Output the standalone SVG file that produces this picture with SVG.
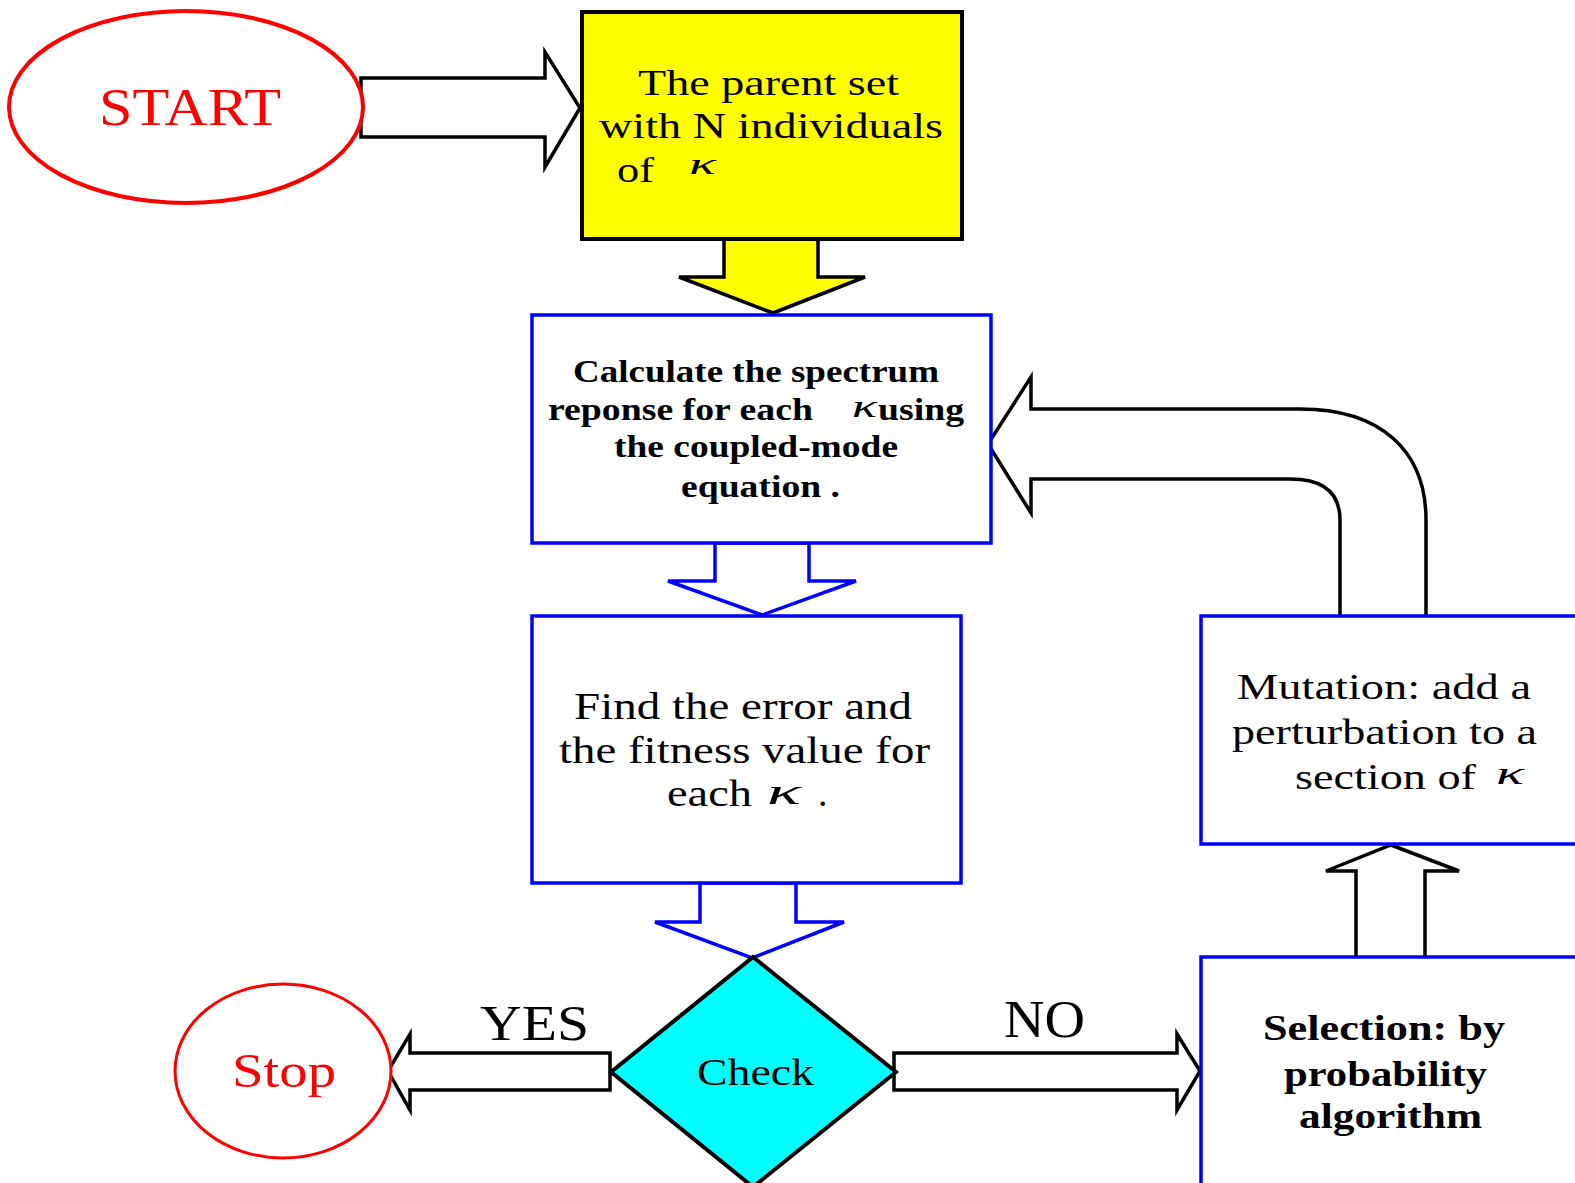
<svg xmlns="http://www.w3.org/2000/svg" width="1575" height="1183" viewBox="0 0 1575 1183">
<style>
.t{font-family:"Liberation Serif","Times New Roman",serif;fill:#000}
.b{font-weight:bold}
.red{fill:#ff0000}
.k{font-style:italic}
.blk{fill:#fff;stroke:#000;stroke-width:3.5;stroke-linejoin:miter}
.blu{fill:#fff;stroke:#0000ff;stroke-width:3.5}
.blueArrow{fill:#fff;stroke:#0000ff;stroke-width:3.5}
</style>
<rect width="1575" height="1183" fill="#fff"/>
<g id="connectors">
  <polygon class="blk" points="361,78 545,78 545,52 580,108 545,167 545,137 361,137"/>
  <polygon points="724,239 724,277 679,277 773,313 865,277 818,277 818,239" fill="#ffff00" stroke="#000" stroke-width="3.5"/>
  <polygon class="blueArrow" points="715,543 715,581 668,581 762,615 856,581 809,581 809,543"/>
  <polygon class="blueArrow" points="700,883 700,922 655,922 752,958 844,922 796,922 796,883"/>
  <polygon class="blk" points="1356,958 1356,871 1326,871 1391,845 1459,871 1425,871 1425,958"/>
  <path class="blk" d="M1340,616 L1340,520 C1340,492 1322,479 1290,479 L1031,479 L1031,513 L988,444 L1031,377 L1031,409 L1300,409 C1380,409 1426,450 1426,520 L1426,616"/>
  <polygon class="blk" points="610,1053 410,1053 410,1034 388,1071 410,1110 410,1090 610,1090"/>
  <polygon class="blk" points="894,1053 1177,1053 1177,1034 1200,1071 1177,1110 1177,1090 894,1090"/>
  <text class="t" x="480" y="1040" font-size="50" textLength="109" lengthAdjust="spacingAndGlyphs">YES</text>
  <text class="t" x="1004" y="1037" font-size="52" textLength="81" lengthAdjust="spacingAndGlyphs">NO</text>
</g>
<g id="start">
  <ellipse cx="186" cy="107" rx="177" ry="96" fill="#fff" stroke="#ff0000" stroke-width="4"/>
  <text class="t red" x="99" y="125" font-size="53" textLength="182" lengthAdjust="spacingAndGlyphs">START</text>
</g>
<g id="parent-set">
  <rect x="582" y="12" width="380" height="227" fill="#ffff00" stroke="#000" stroke-width="4"/>
  <text class="t" x="638" y="95" font-size="35" textLength="261" lengthAdjust="spacingAndGlyphs">The parent set</text>
  <text class="t" x="599" y="138" font-size="35" textLength="344" lengthAdjust="spacingAndGlyphs">with N individuals</text>
  <text class="t" x="617" y="182" font-size="35" textLength="37" lengthAdjust="spacingAndGlyphs">of</text>
  <text class="t k" x="689" y="174" font-size="30" textLength="27" lengthAdjust="spacingAndGlyphs">κ</text>
</g>
<g id="calculate">
  <rect x="532" y="315" width="459" height="228" class="blu"/>
  <text class="t b" x="573" y="382" font-size="32" textLength="366" lengthAdjust="spacingAndGlyphs">Calculate the spectrum</text>
  <text class="t b" x="548" y="420" font-size="32" textLength="265" lengthAdjust="spacingAndGlyphs">reponse for each</text>
  <text class="t k" x="852" y="417" font-size="32" textLength="25" lengthAdjust="spacingAndGlyphs">κ</text>
  <text class="t b" x="878" y="420" font-size="32" textLength="86" lengthAdjust="spacingAndGlyphs">using</text>
  <text class="t b" x="614" y="457" font-size="32" textLength="284" lengthAdjust="spacingAndGlyphs">the coupled-mode</text>
  <text class="t b" x="681" y="497" font-size="32" textLength="159" lengthAdjust="spacingAndGlyphs">equation .</text>
</g>
<g id="fitness">
  <rect x="532" y="616" width="429" height="267" class="blu"/>
  <text class="t" x="574" y="719" font-size="38" textLength="338" lengthAdjust="spacingAndGlyphs">Find the error and</text>
  <text class="t" x="559" y="763" font-size="38" textLength="371" lengthAdjust="spacingAndGlyphs">the fitness value for</text>
  <text class="t" x="667" y="806" font-size="38" textLength="85" lengthAdjust="spacingAndGlyphs">each</text>
  <text class="t k" x="767" y="804" font-size="36" textLength="34" lengthAdjust="spacingAndGlyphs">κ</text>
  <text class="t" x="818" y="806" font-size="38">.</text>
</g>
<g id="check">
  <polygon points="753,957 611,1072 753,1187 896,1072" fill="#00ffff" stroke="#000" stroke-width="4"/>
  <text class="t" x="697" y="1085" font-size="38" textLength="117" lengthAdjust="spacingAndGlyphs">Check</text>
</g>
<g id="stop">
  <ellipse cx="283" cy="1071" rx="108" ry="87" fill="#fff" stroke="#ff0000" stroke-width="3"/>
  <text class="t red" x="232" y="1087" font-size="48" textLength="104" lengthAdjust="spacingAndGlyphs">Stop</text>
</g>
<g id="selection">
  <rect x="1201" y="957" width="420" height="300" class="blu"/>
  <text class="t b" x="1263" y="1040" font-size="36" textLength="242" lengthAdjust="spacingAndGlyphs">Selection: by</text>
  <text class="t b" x="1284" y="1086" font-size="36" textLength="203" lengthAdjust="spacingAndGlyphs">probability</text>
  <text class="t b" x="1299" y="1128" font-size="36" textLength="183" lengthAdjust="spacingAndGlyphs">algorithm</text>
</g>
<g id="mutation">
  <rect x="1201" y="616" width="420" height="228" class="blu"/>
  <text class="t" x="1237" y="699" font-size="36" textLength="294" lengthAdjust="spacingAndGlyphs">Mutation: add a</text>
  <text class="t" x="1232" y="744" font-size="36" textLength="305" lengthAdjust="spacingAndGlyphs">perturbation to a</text>
  <text class="t" x="1295" y="789" font-size="36" textLength="181" lengthAdjust="spacingAndGlyphs">section of</text>
  <text class="t k" x="1496" y="784" font-size="32" textLength="28" lengthAdjust="spacingAndGlyphs">κ</text>
</g>
</svg>
